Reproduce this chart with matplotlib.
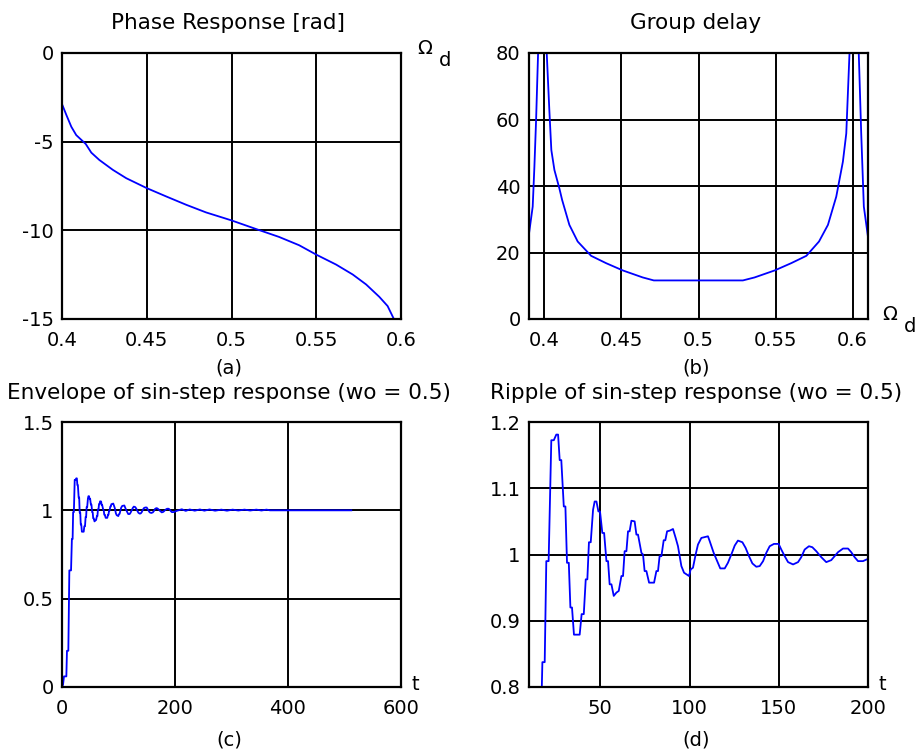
import numpy as np
import matplotlib
matplotlib.use("Agg")
import matplotlib.pyplot as plt

plt.rcParams["font.family"] = ["DejaVu Sans"]
plt.rcParams["axes.unicode_minus"] = False

# ── Phase response (a) ───────────────────────────────────────────────────────
phase_w = [0.4, 0.4026, 0.4055, 0.4084, 0.414, 0.4173, 0.422, 0.430, 0.4379,
           0.45, 0.4615, 0.4733, 0.485, 0.5, 0.5146, 0.528, 0.5399, 0.55,
           0.5617, 0.5715, 0.5794, 0.5872, 0.5921, 0.5957]
phase_rad = [-2.88, -3.5, -4.16, -4.63, -5.13, -5.62, -6.03, -6.59, -7.06,
             -7.62, -8.09, -8.56, -8.99, -9.44, -9.93, -10.37, -10.84, -11.37,
             -11.93, -12.49, -13.05, -13.75, -14.27, -14.98]

# ── Group delay (b) ──────────────────────────────────────────────────────────
gd_w = [0.3896, 0.3924, 0.3935, 0.3946, 0.3959, 0.3987, 0.4015, 0.4032,
        0.4045, 0.4065, 0.4097, 0.4115, 0.4162, 0.4216, 0.4303, 0.44, 0.4509,
        0.4638, 0.471, 0.5, 0.5288, 0.5364, 0.5494, 0.5602, 0.57, 0.5782,
        0.584, 0.5894, 0.5937, 0.5959, 0.598, 0.601, 0.604, 0.6056, 0.6073,
        0.611]
gd_val = [24.3, 33.8, 45.8, 59.8, 80, 200, 80, 62.8,
          50.8, 44.8, 39.3, 35.8, 28.3, 23.3, 19.0, 16.8, 14.6,
          12.5, 11.6, 11.6, 11.6, 12.5, 14.6, 16.8, 19.0, 23.3,
          28.3, 36.8, 47.3, 55.8, 80, 200, 80, 55.8, 33.8,
          21.3]

# ── Sin-step response envelope (c) and ripple (d) ────────────────────────────
env_t = [0, 1.8, 3.5, 7.7, 8.8, 11.2, 13.0, 16.0,
         17.5, 18.8, 19.7, 21.0, 22.5, 23.9, 25.3, 26.3, 27.2, 28.1, 29.5, 30.4,
         31.3, 32.3, 33.2, 34.1, 35.2, 38.4, 39.5, 40.7, 41.8, 42.7, 43.6, 44.6,
         45.9, 46.8, 47.8, 48.9, 49.8, 51.1, 52.1, 53.4, 54.3, 55.2, 56.2, 57.5,
         59.0, 60.3, 61.8, 62.7, 63.6, 64.6, 65.5, 66.4, 67.4, 69.2, 70.2, 71.1,
         73.0, 73.9, 74.8, 75.8, 77.3, 80.1, 81.4, 82.3, 83.2, 84.2, 85.5, 86.4,
         87.4, 88.9, 90.7, 92.2, 93.5, 95.4, 96.9, 99.7, 100.6, 101.9, 103.4,
         104.7, 106.6, 110.3, 111.3, 113.5, 115.9, 117.2, 119.7, 121.5, 123.4,
         125.3, 127.1, 129.6, 131.4, 133.3, 135.2, 137.4, 139.3, 141.2, 143.0,
         144.9, 147.3, 149.9, 151.4, 153.3, 155.2, 158.0, 160.8, 162.6, 164.5,
         166.9, 168.8, 171.0, 173.8, 176.6, 179.4, 181.3, 183.2, 186.0, 188.8,
         190.6, 192.5, 194.4, 197.2, 200.0,
         204, 212, 219, 226, 235, 244, 252, 261, 271, 282, 292, 302, 312, 323,
         333, 344, 353, 362, 368, 512]
env_y = [0, 0.013, 0.06, 0.06, 0.205, 0.205, 0.66, 0.66,
         0.8375, 0.8375, 0.99, 0.99, 1.1725, 1.1725, 1.181, 1.181, 1.1425,
         1.1425, 1.0725, 1.0725, 0.9875, 0.9875, 0.92, 0.92, 0.879, 0.879,
         0.91, 0.91, 0.9625, 0.9625, 1.0185, 1.0185, 1.0675, 1.08, 1.08, 1.065,
         1.065, 1.0325, 1.0325, 0.99, 0.99, 0.955, 0.955, 0.9375, 0.9425, 0.945,
         0.9675, 0.9675, 1.005, 1.005, 1.035, 1.035, 1.051, 1.05, 1.03, 1.03,
         1.0025, 1.0, 0.975, 0.975, 0.9575, 0.9575, 0.975, 0.975, 0.9975,
         0.9975, 1.0215, 1.0215, 1.035, 1.036, 1.0385, 1.025, 1.0125, 0.9825,
         0.9725, 0.9675, 0.9775, 0.98, 1.0, 1.015, 1.025, 1.0275, 1.02, 1.0025,
         0.9875, 0.979, 0.979, 0.9875, 1.0, 1.0135, 1.021, 1.0185, 1.01, 0.9975,
         0.9865, 0.9815, 0.9825, 0.99, 1.0025, 1.0125, 1.016, 1.016, 1.0075,
         0.9975, 0.9885, 0.985, 0.9885, 0.996, 1.0075, 1.0125, 1.011, 1.005,
         0.996, 0.9885, 0.9915, 0.9975, 1.0035, 1.009, 1.009, 1.0035, 0.996,
         0.99, 0.99, 0.9935,
         0.998, 1.006, 0.997, 1.005, 0.998, 1.005, 0.998, 1.005, 0.998, 1.004,
         0.998, 1.004, 0.999, 1.004, 0.999, 1.004, 0.999, 1.004, 1.0, 1.0]

BLUE = "#0000ff"
FS = 14
FS_TITLE = 15.5

fig = plt.figure(figsize=(9.17, 7.51), dpi=100)
W, H = 917, 751


def make_ax(x0, y0, x1, y1):
    ax = fig.add_axes([x0 / W, 1 - y1 / H, (x1 - x0) / W, (y1 - y0) / H])
    for s in ax.spines.values():
        s.set_linewidth(1.6)
        s.set_color("black")
    ax.grid(True, color="black", linewidth=1.4)
    ax.set_axisbelow(True)
    ax.tick_params(length=0, labelsize=FS)
    ax.tick_params(axis="x", pad=9)
    ax.tick_params(axis="y", pad=6)
    return ax


def label(x, y, s, size=FS):
    fig.text(x / W, 1 - y / H, s, fontsize=size, ha="center", va="center")


# (a)
ax = make_ax(62, 53, 401, 319)
ax.plot(phase_w, phase_rad, color=BLUE, linewidth=1.3)
ax.set_xlim(0.4, 0.6)
ax.set_ylim(-15, 0)
ax.set_xticks([0.4, 0.45, 0.5, 0.55, 0.6])
ax.set_xticklabels(["0.4", "0.45", "0.5", "0.55", "0.6"])
ax.set_yticks([0, -5, -10, -15])
ax.set_yticklabels(["0", "-5", "-10", "-15"])
label(228, 23, "Phase Response [rad]", FS_TITLE)
label(425, 48, "Ω")
label(445, 61, "d")
label(229, 368, "(a)")

# (b)
ax = make_ax(529, 53, 868, 319)
ax.plot(gd_w, gd_val, color=BLUE, linewidth=1.3)
ax.set_xlim(0.39, 0.61)
ax.set_ylim(0, 80)
ax.set_xticks([0.4, 0.45, 0.5, 0.55, 0.6])
ax.set_xticklabels(["0.4", "0.45", "0.5", "0.55", "0.6"])
ax.set_yticks([0, 20, 40, 60, 80])
label(696, 23, "Group delay", FS_TITLE)
label(890, 315, "Ω")
label(910, 327, "d")
label(696, 368, "(b)")

# (c)
ax = make_ax(62, 422, 401, 687)
ax.plot(env_t, env_y, color=BLUE, linewidth=1.3)
ax.set_xlim(0, 600)
ax.set_ylim(0, 1.5)
ax.set_xticks([0, 200, 400, 600])
ax.set_yticks([0, 0.5, 1, 1.5])
ax.set_yticklabels(["0", "0.5", "1", "1.5"])
label(229, 393, "Envelope of sin-step response (wo = 0.5)", FS_TITLE)
label(415, 685, "t")
label(229, 740, "(c)")

# (d)
ax = make_ax(529, 422, 868, 687)
ax.plot(env_t, env_y, color=BLUE, linewidth=1.3)
ax.set_xlim(10, 200)
ax.set_ylim(0.8, 1.2)
ax.set_xticks([50, 100, 150, 200])
ax.set_yticks([0.8, 0.9, 1.0, 1.1, 1.2])
ax.set_yticklabels(["0.8", "0.9", "1", "1.1", "1.2"])
label(696, 393, "Ripple of sin-step response (wo = 0.5)", FS_TITLE)
label(882, 685, "t")
label(696, 740, "(d)")

fig.savefig("out.png", dpi=100)
